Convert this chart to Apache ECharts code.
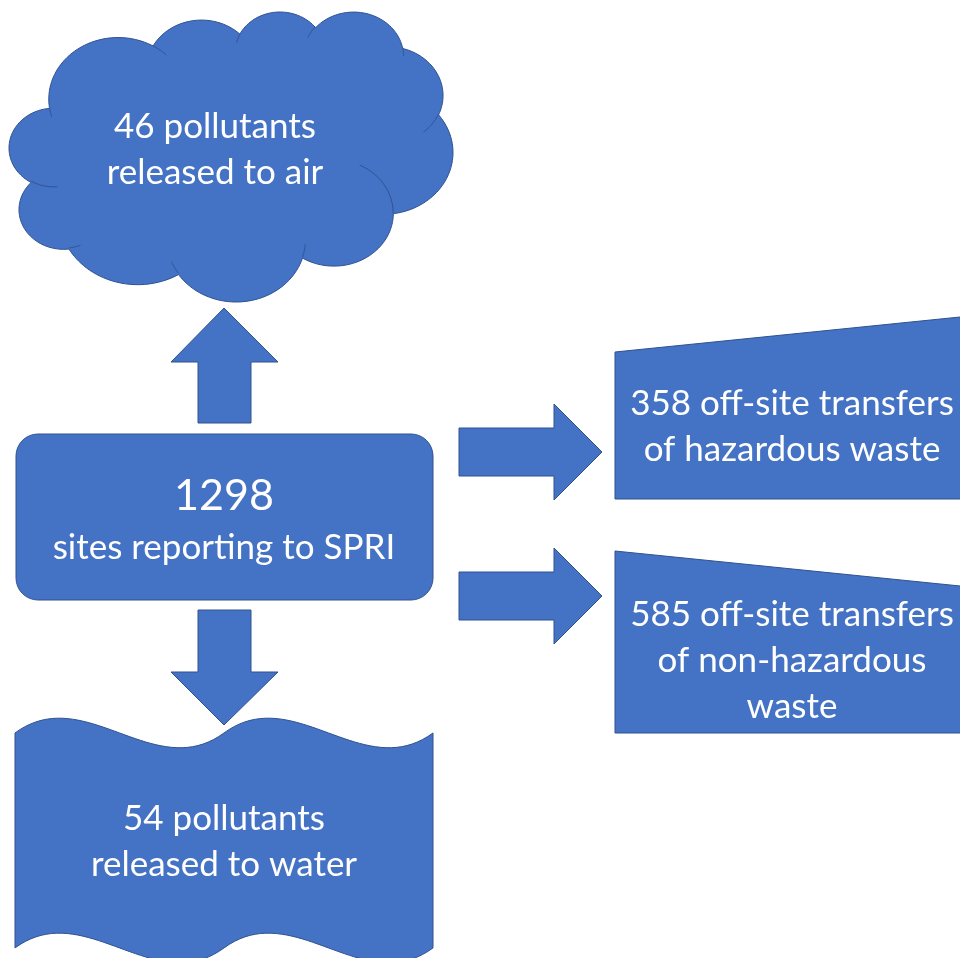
<!DOCTYPE html>
<html>
<head>
<meta charset="utf-8">
<script src="https://cdn.jsdelivr.net/npm/echarts@6/dist/echarts.min.js"></script>
<style>
  html, body { margin: 0; padding: 0; background: #fff; }
  #main { width: 960px; height: 958px; }
</style>
</head>
<body>
<div id="main"></div>
<script>
  // numbers shown in the boxes
  var siteCount = 1298;
  var siteLabel = 'sites reporting to SPRI';
  var releaseCounts = [46, 54];
  var releaseMedia = ['air', 'water'];
  var transferCounts = [358, 585];
  var transferLines = [['of hazardous waste'], ['of non-hazardous', 'waste']];

  var FILL = '#4472C4';
  var EDGE = '#2F528F';
  var FONT = 'Lato, "Open Sans", sans-serif';

  // office cloud outline (43200 grid), arcs are [wR, hR, stAng, swAng]
  var cloudStart = [3900, 14370];
  var cloudArcs = [
    [6753, 9190, -11429249, 7426832], [5333, 7267, -8646143, 5396714],
    [4365, 5945, -8748475, 5983381], [4857, 6595, -7859164, 7034504],
    [5333, 7273, -4722533, 6541615], [6775, 9220, -2776035, 7816140],
    [5785, 7867, 37501, 6842000], [6752, 9215, 1347096, 6910353],
    [7720, 10543, 3974558, 4542661], [4360, 5918, -16496525, 8804134],
    [4345, 5945, -14809710, 9151131]
  ];
  var cloudPuffs = [
    [4693, 26177, 4345, 5945, 5204520, 1585770], [6928, 34899, 4360, 5918, 4416628, 686848],
    [16478, 39090, 6752, 9215, 8257449, 844866], [28827, 34751, 6752, 9215, 387196, 959901],
    [34129, 22954, 5785, 7867, -4217541, 4255042], [41798, 15354, 5333, 7273, 1819082, 1665090],
    [38324, 5426, 4857, 6595, -824660, 891534], [29078, 3952, 4857, 6595, -8950887, 1091722],
    [22141, 4720, 4365, 5945, -9809656, 1061181], [14000, 5192, 6753, 9190, -4002417, 739161],
    [4127, 15789, 6753, 9190, 9459261, 711490]
  ];

  function arcPts(cur, wR, hR, st, sw, out) {
    st = st / 60000 * Math.PI / 180;
    sw = sw / 60000 * Math.PI / 180;
    var r = function (t) {
      return wR * hR / Math.sqrt(Math.pow(hR * Math.cos(t), 2) + Math.pow(wR * Math.sin(t), 2));
    };
    var ox = cur[0] - r(st) * Math.cos(st), oy = cur[1] - r(st) * Math.sin(st);
    var n = 30;
    for (var i = 1; i <= n; i++) {
      var t = st + sw * i / n;
      cur = [ox + r(t) * Math.cos(t), oy + r(t) * Math.sin(t)];
      out.push(cur);
    }
    return cur;
  }

  function cloudShapes(box) {
    var outline = [cloudStart];
    var cur = cloudStart;
    cloudArcs.forEach(function (a) { cur = arcPts(cur, a[0], a[1], a[2], a[3], outline); });
    var xs = outline.map(function (p) { return p[0]; });
    var ys = outline.map(function (p) { return p[1]; });
    var x0 = Math.min.apply(null, xs), x1 = Math.max.apply(null, xs);
    var y0 = Math.min.apply(null, ys), y1 = Math.max.apply(null, ys);
    var map = function (p) {
      return [box[0] + (p[0] - x0) / (x1 - x0) * (box[2] - box[0]),
              box[1] + (p[1] - y0) / (y1 - y0) * (box[3] - box[1])];
    };
    var puffs = cloudPuffs.map(function (c) {
      var pts = [[c[0], c[1]]];
      arcPts([c[0], c[1]], c[2], c[3], c[4], c[5], pts);
      return pts.map(map);
    });
    return { outline: outline.map(map), puffs: puffs };
  }

  // cubic bezier sampled into points
  function bez(p0, p1, p2, p3, out) {
    for (var i = 1; i <= 40; i++) {
      var t = i / 40, u = 1 - t;
      out.push([
        u * u * u * p0[0] + 3 * u * u * t * p1[0] + 3 * u * t * t * p2[0] + t * t * t * p3[0],
        u * u * u * p0[1] + 3 * u * u * t * p1[1] + 3 * u * t * t * p2[1] + t * t * t * p3[1]
      ]);
    }
  }

  // office double wave, top edge at y1, bottom edge at y4
  function doubleWave(l, t, w, h) {
    var a = h * 0.0625, d = a * 10 / 3;
    var y1 = t + a, y4 = t + h - a;
    var x = function (f) { return l + w * f; };
    var pts = [[l, y1]];
    bez([l, y1], [x(1 / 6), y1 - d], [x(1 / 3), y1 + d], [x(1 / 2), y1], pts);
    bez([x(1 / 2), y1], [x(2 / 3), y1 - d], [x(5 / 6), y1 + d], [x(1), y1], pts);
    pts.push([x(1), y4]);
    bez([x(1), y4], [x(5 / 6), y4 + d], [x(2 / 3), y4 - d], [x(1 / 2), y4], pts);
    bez([x(1 / 2), y4], [x(1 / 3), y4 + d], [x(1 / 6), y4 - d], [l, y4], pts);
    return pts;
  }

  var shapeStyle = { fill: FILL, stroke: EDGE, lineWidth: 1 };
  function poly(points) {
    return { type: 'polygon', shape: { points: points }, style: shapeStyle };
  }
  function label(text, x, y, size, lh) {
    return {
      type: 'text', z: 10,
      style: {
        text: text, x: x, y: y, fill: '#fff',
        fontSize: size, fontFamily: FONT, lineHeight: lh || size,
        align: 'center', verticalAlign: 'middle'
      }
    };
  }

  var cloud = cloudShapes([9, 12, 453, 302]);
  var elements = [];
  elements.push(poly(cloud.outline));
  cloud.puffs.forEach(function (p) {
    elements.push({ type: 'polyline', shape: { points: p }, style: { fill: null, stroke: EDGE, lineWidth: 1 }, z: 2 });
  });

  // arrows
  elements.push(poly([[198, 423], [198, 362], [171, 362], [224, 308], [278, 362], [251, 362], [251, 423]]));
  elements.push(poly([[198, 610], [251, 610], [251, 672], [278, 672], [224, 725], [171, 672], [198, 672]]));
  elements.push(poly([[459, 428], [554, 428], [554, 404], [602, 452], [554, 500], [554, 476], [459, 476]]));
  elements.push(poly([[459, 572], [554, 572], [554, 548], [602, 596], [554, 644], [554, 620], [459, 620]]));

  // central box
  elements.push({ type: 'rect', shape: { x: 16, y: 434, width: 417, height: 166, r: 22 }, style: shapeStyle });

  // water wave
  elements.push(poly(doubleWave(15, 717.6, 418, 245.7)));

  // manual input boxes (right side runs off the page)
  elements.push(poly([[615, 352], [966, 316.4], [966, 499], [615, 499]]));
  elements.push(poly([[615, 551], [966, 586.6], [966, 733], [615, 733]]));

  // texts
  elements.push(label(releaseCounts[0] + ' pollutants\nreleased to ' + releaseMedia[0], 215, 150, 35, 46));
  elements.push(label(String(siteCount), 224, 496, 43));
  elements.push(label(siteLabel, 224, 548, 35));
  elements.push(label(releaseCounts[1] + ' pollutants\nreleased to ' + releaseMedia[1], 224, 842, 35, 46));
  elements.push(label([transferCounts[0] + ' off-site transfers'].concat(transferLines[0]).join('\n'), 792, 427, 35, 46));
  elements.push(label([transferCounts[1] + ' off-site transfers'].concat(transferLines[1]).join('\n'), 792, 661, 35, 46));

  var chart = echarts.init(document.getElementById('main'));
  chart.setOption({
    animation: false,
    graphic: { elements: elements }
  });
</script>
</body>
</html>
